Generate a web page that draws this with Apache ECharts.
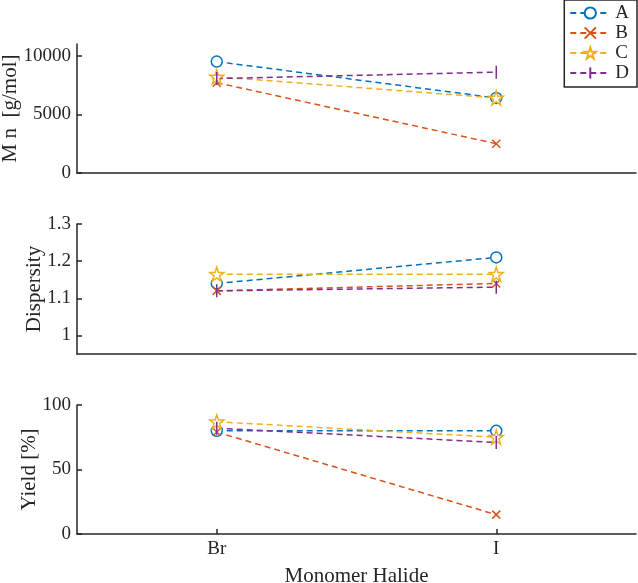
<!DOCTYPE html>
<html style="height: 100%">
<head>
    <meta charset="utf-8">
</head>
<body style="height: 100%; margin: 0; background-color: #fff;">
<div id="container" style="width: 638px; height: 583px;"></div>
<script type="text/javascript" src="https://cdn.jsdelivr.net/npm/echarts@6/dist/echarts.min.js"></script>
<script type="text/javascript">
var categories = ['Br', 'I'];
var names = ['A', 'B', 'C', 'D'];

// Mn [g/mol]
var mnA = [9500, 6400];
var mnB = [7700, 2500];
var mnC = [8200, 6400];
var mnD = [8050, 8600];

// dispersity
var dispA = [1.14, 1.21];
var dispB = [1.12, 1.14];
var dispC = [1.165, 1.165];
var dispD = [1.12, 1.13];

// yield [%]
var yieldA = [80, 80];
var yieldB = [79, 15];
var yieldC = [87, 75];
var yieldD = [82, 71];

var mnTicks = [0, 5000, 10000];
var dispTicks = [1, 1.1, 1.2, 1.3];
var yieldTicks = [0, 50, 100];

var colors = ['#0072BD', '#D95319', '#EDB120', '#7E2F8E'];
var axisColor = '#262626';
var font = '"Liberation Serif", "Times New Roman", serif';

var starPath = 'path://M10,0L12.25,6.91L19.51,6.91L13.63,11.18L15.88,18.09L10,13.82L4.12,18.09L6.37,11.18L0.49,6.91L7.75,6.91Z';
// vertical bar marker; the corner moves keep the bounding box square
var barPath = 'path://M0,0L0,0M5,0L5,10M10,10L10,10';
var markers = [
    {symbol: 'circle', size: 11, fill: '#fff'},
    {symbol: 'path://M0,0L10,10M0,10L10,0', size: 8, fill: 'none'},
    {symbol: starPath, size: 14, fill: '#fff'},
    {symbol: barPath, size: 13, fill: 'none'}
];

var dom = document.getElementById('container');
var chart = echarts.init(dom);

var grids = [
    {left: 77, right: 2, top: 44, height: 129, outerBoundsMode: 'none'},
    {left: 77, right: 2, top: 224, height: 130, outerBoundsMode: 'none'},
    {left: 77, right: 2, top: 405, height: 129, outerBoundsMode: 'none'}
];

function xAxis(idx, last) {
    return {
        type: 'category',
        gridIndex: idx,
        data: categories,
        boundaryGap: true,
        axisLine: {lineStyle: {color: axisColor, width: 1.5}},
        axisTick: {show: last, inside: true, length: 5, alignWithLabel: true, lineStyle: {color: axisColor, width: 1.5}},
        axisLabel: {show: last, color: '#262626', fontFamily: font, fontSize: 19, margin: 6},
        name: last ? 'Monomer Halide' : '',
        nameLocation: 'middle',
        nameGap: 32,
        nameMoveOverlap: false,
        nameTextStyle: {color: '#262626', fontFamily: font, fontSize: 21}
    };
}

function yAxis(idx, min, max, ticks, name, gap) {
    return {
        type: 'value',
        gridIndex: idx,
        min: min,
        max: max,
        splitLine: {show: false},
        axisLine: {show: true, lineStyle: {color: axisColor, width: 1.5}},
        axisTick: {show: true, inside: true, length: 5, customValues: ticks, lineStyle: {color: axisColor, width: 1.5}},
        axisLabel: {
            color: '#262626', fontFamily: font, fontSize: 19, margin: 6, customValues: ticks,
            formatter: function (v) { return String(v); }
        },
        name: name,
        nameLocation: 'middle',
        nameGap: gap,
        nameMoveOverlap: false,
        nameTextStyle: {color: '#262626', fontFamily: font, fontSize: 21}
    };
}

var panels = [
    [mnA, mnB, mnC, mnD],
    [dispA, dispB, dispC, dispD],
    [yieldA, yieldB, yieldC, yieldD]
];

var series = [];
for (var p = 0; p < panels.length; p++) {
    for (var s = 0; s < names.length; s++) {
        series.push({
            name: names[s],
            type: 'line',
            xAxisIndex: p,
            yAxisIndex: p,
            data: panels[p][s],
            symbol: markers[s].symbol,
            symbolSize: markers[s].size,
            showAllSymbol: true,
            lineStyle: {color: colors[s], width: 1.5, type: [6, 4]},
            itemStyle: {color: markers[s].fill, borderColor: colors[s], borderWidth: 1.5},
            emphasis: {disabled: true},
            animation: false
        });
    }
}

var option = {
    backgroundColor: '#fff',
    animation: false,
    legend: {
        data: names,
        orient: 'vertical',
        right: 1,
        top: 0,
        itemWidth: 40,
        itemHeight: 14,
        itemGap: 0,
        padding: [3, 8, 4, 5],
        borderColor: axisColor,
        borderWidth: 1.5,
        backgroundColor: '#fff',
        textStyle: {color: '#262626', fontFamily: font, fontSize: 19, lineHeight: 20}
    },
    grid: grids,
    xAxis: [xAxis(0, false), xAxis(1, false), xAxis(2, true)],
    yAxis: [
        yAxis(0, 0, 11000, mnTicks, 'M n  [g/mol]', 56),
        yAxis(1, 0.95, 1.3, dispTicks, 'Dispersity', 32),
        yAxis(2, 0, 100, yieldTicks, 'Yield [%]', 37)
    ],
    series: series
};

chart.setOption(option);
</script>
</body>
</html>
